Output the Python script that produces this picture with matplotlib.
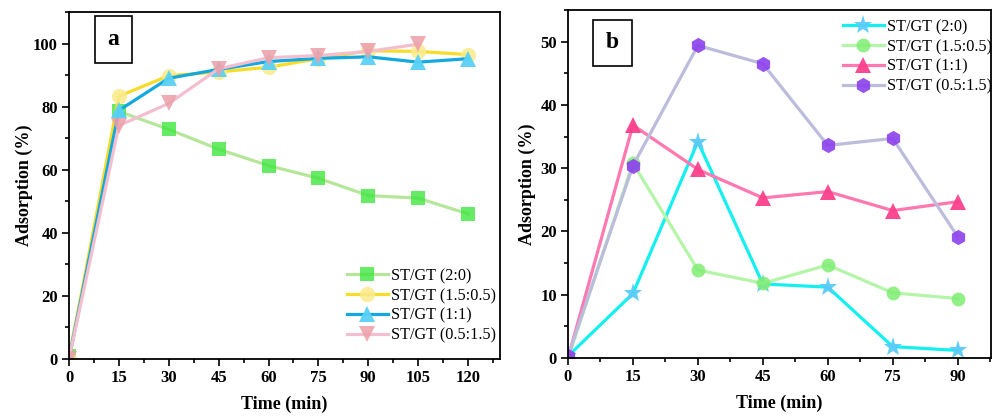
import matplotlib
matplotlib.use("Agg")
import matplotlib.pyplot as plt
from matplotlib.ticker import MultipleLocator

plt.rcParams['font.family'] = ['Liberation Serif', 'DejaVu Serif']

# Panel a data
time_a = [0, 15, 30, 45, 60, 75, 90, 105, 120]
a_20 = [1, 78.5, 72.8, 66.5, 61.3, 57.3, 51.8, 51.0, 46.0]
a_155 = [0, 83.3, 89.8, 91.0, 92.5, 95.2, 97.7, 97.5, 96.5]
a_11 = [0, 78.8, 89.0, 91.8, 94.3, 95.3, 95.8, 94.1, 95.2]
time_a_pink = [0, 15, 30, 45, 60, 75, 90, 105]
a_0515 = [0, 74.0, 81.0, 92.0, 95.5, 96.2, 97.5, 99.8]

# Panel b data
time_b = [0, 15, 30, 45, 60, 75, 90]
b_20 = [0.3, 10.2, 34.2, 11.7, 11.2, 1.8, 1.2]
b_155 = [0, 30.8, 13.9, 11.8, 14.7, 10.3, 9.4]
b_11 = [0, 36.8, 29.8, 25.3, 26.3, 23.3, 24.7]
b_0515 = [0.3, 30.4, 49.4, 46.5, 33.6, 34.7, 19.2]

labels = ['ST/GT (2:0)', 'ST/GT (1.5:0.5)', 'ST/GT (1:1)', 'ST/GT (0.5:1.5)']

fig = plt.figure(figsize=(9.92, 4.16), dpi=100)
axa = fig.add_axes([69/992, 1-359/416, (500-69)/992, (359-12)/416])
axb = fig.add_axes([568/992, 1-358/416, (991-568)/992, (358-10)/416])

lw = 2.3
ms = 10

def plot(ax, x, y, lc, mc, marker, label, msz=ms):
    ax.plot(x, y, color=lc, lw=lw, label=label, marker=marker,
            markersize=msz, markerfacecolor=mc, markeredgecolor=mc,
            markeredgewidth=0)

plot(axa, time_a, a_20, '#b5e69a', (0.25, 0.9, 0.25, 0.8), 's', labels[0])
plot(axa, time_a, a_155, '#f7dc2a', (0.98, 0.92, 0.55, 0.85), 'o', labels[1], ms + 1)
plot(axa, time_a, a_11, '#13a8df', (0.35, 0.82, 0.97, 0.95), '^', labels[2], ms + 1)
plot(axa, time_a_pink, a_0515, '#f3bfcf', (0.92, 0.62, 0.66, 0.85), 'v', labels[3], ms + 1)

plot(axb, time_b, b_20, '#14f0f0', (0.35, 0.80, 0.97, 0.95), '*', labels[0], ms + 4)
plot(axb, time_b, b_155, '#b4f5a8', (0.50, 0.93, 0.45, 0.85), 'o', labels[1])
plot(axb, time_b, b_11, '#ff78b0', (0.98, 0.25, 0.55, 0.95), '^', labels[2], ms + 1)
plot(axb, time_b, b_0515, '#bcbcdc', (0.55, 0.25, 0.93, 0.9), 'h', labels[3], ms + 1)

axa.set_xlim(0, 129.6)
axa.set_ylim(0, 110)
axb.set_xlim(0, 97.7)
axb.set_ylim(0, 55)

axa.xaxis.set_major_locator(MultipleLocator(15))
axa.xaxis.set_minor_locator(MultipleLocator(7.5))
axa.yaxis.set_major_locator(MultipleLocator(20))
axa.yaxis.set_minor_locator(MultipleLocator(10))
axb.xaxis.set_major_locator(MultipleLocator(15))
axb.xaxis.set_minor_locator(MultipleLocator(7.5))
axb.yaxis.set_major_locator(MultipleLocator(10))
axb.yaxis.set_minor_locator(MultipleLocator(5))

for ax, tag, box in [(axa, 'a', (94, 18, 133, 61)), (axb, 'b', (592, 22, 633, 64))]:
    ax.tick_params(which='major', direction='out', length=5, width=1.2, labelsize=12, pad=3)
    ax.tick_params(which='minor', direction='out', length=3, width=1.2)
    for lab in ax.get_xticklabels() + ax.get_yticklabels():
        lab.set_fontweight('bold')
    for sp in ax.spines.values():
        sp.set_linewidth(1.3)
    ax.set_xlabel('Time (min)', fontsize=13, fontweight='bold', labelpad=7)
    x0, y0, x1, y1 = box
    fig.text((x0 + x1) / 2 / 992, 1 - (y0 + y1) / 2 / 416, tag, ha='center', va='center',
             fontsize=17, fontweight='bold',
             bbox=dict(boxstyle='square,pad=0.55', fc='white', ec='black', lw=1.2))

axa.set_ylabel('Adsorption (%)', fontsize=13, fontweight='bold', labelpad=0)
axb.set_ylabel('Adsorption (%)', fontsize=13, fontweight='bold', labelpad=3)

leg_kw = dict(frameon=False, fontsize=11.7, handlelength=2.5, handletextpad=0.2,
              labelspacing=0.24, borderaxespad=0, borderpad=0, loc='upper left',
              bbox_transform=fig.transFigure)
axa.legend(bbox_to_anchor=(347/992, 1-268/416), **leg_kw)
axb.legend(bbox_to_anchor=(843/992, 1-19/416), **leg_kw)

fig.savefig('out.png', dpi=100)
